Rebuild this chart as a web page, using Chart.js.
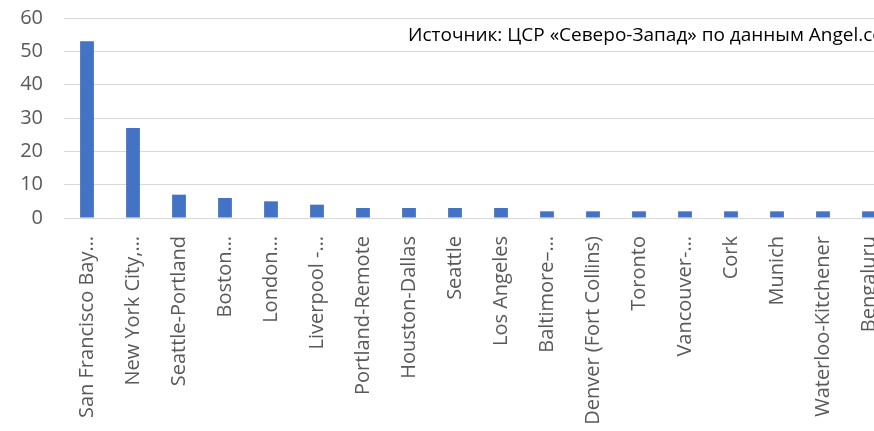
<!DOCTYPE html>
<html>
<head>
<meta charset="utf-8">
<script src="https://cdn.jsdelivr.net/npm/chart.js@4"></script>
<style>
  html, body { margin: 0; padding: 0; background: #fff; overflow: hidden; }
  #wrap { width: 892px; height: 431px; }
</style>
</head>
<body>
<div id="wrap"><canvas id="cityChart"></canvas></div>
<script>
var cities = [
    'San Francisco Bay…', 'New York City,…', 'Seattle-Portland', 'Boston…', 'London…',
    'Liverpool -…', 'Portland-Remote', 'Houston-Dallas', 'Seattle', 'Los Angeles',
    'Baltimore–…', 'Denver (Fort Collins)', 'Toronto', 'Vancouver-…', 'Cork',
    'Munich', 'Waterloo-Kitchener', 'Bengaluru'
];
var counts = [53, 27, 7, 6, 5, 4, 3, 3, 3, 3, 2, 2, 2, 2, 2, 2, 2, 2];
var sourceNote = 'Источник: ЦСР «Северо-Запад» по данным Angel.co';

var notePlugin = {
    id: 'sourceNote',
    afterDraw: function (chart) {
        var ctx = chart.ctx;
        ctx.save();
        ctx.font = '19px "Open Sans"';
        ctx.fillStyle = '#000';
        ctx.textBaseline = 'middle';
        ctx.fillText(sourceNote, 408, 36);
        ctx.restore();
    }
};

new Chart(document.getElementById('cityChart'), {
    type: 'bar',
    data: {
        labels: cities,
        datasets: [{
            data: counts,
            backgroundColor: '#4472C4',
            categoryPercentage: 1,
            barPercentage: 0.3
        }]
    },
    options: {
        responsive: true,
        maintainAspectRatio: false,
        animation: false,
        layout: { padding: { top: 18, left: 0, right: 0, bottom: 0 } },
        plugins: { legend: { display: false }, tooltip: { enabled: false } },
        scales: {
            x: {
                grid: { display: false },
                border: { color: '#d9d9d9', width: 1 },
                ticks: {
                    color: '#595959',
                    font: { family: 'Open Sans', size: 20 },
                    minRotation: 90, maxRotation: 90,
                    autoSkip: false,
                    padding: 10
                },
                afterFit: function (scale) {
                    scale.height = 213;
                    scale.paddingLeft = 0;
                    scale.paddingRight = 0;
                }
            },
            y: {
                min: 0, max: 60,
                ticks: {
                    stepSize: 10,
                    color: '#595959',
                    font: { family: 'Open Sans', size: 20 },
                    padding: 21
                },
                grid: { color: '#d9d9d9', drawTicks: false },
                border: { display: false },
                afterFit: function (scale) {
                    scale.width = 64;
                    scale.paddingTop = 0;
                    scale.paddingBottom = 0;
                }
            }
        }
    },
    plugins: [notePlugin]
});
</script>
</body>
</html>
